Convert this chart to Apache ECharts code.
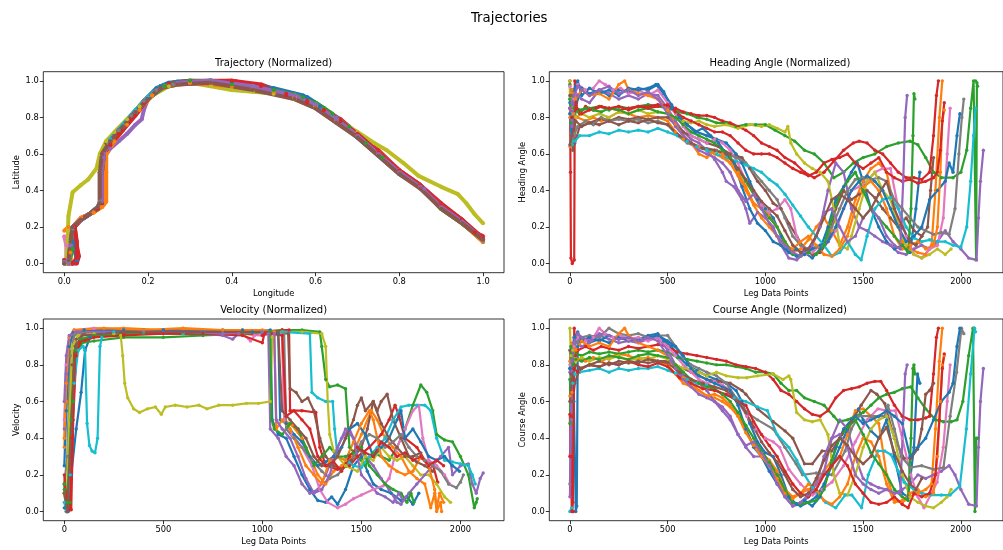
<!DOCTYPE html>
<html>
<head>
<meta charset="utf-8">
<title>Trajectories</title>
<script src="https://cdn.jsdelivr.net/npm/echarts@6/dist/echarts.min.js"></script>
<style>
  html, body { margin: 0; padding: 0; background: #fff; }
  #chart { width: 1003px; height: 550px; }
</style>
</head>
<body>
<div id="chart"></div>
<script>
// tab10 colour cycle, one colour per leg (cycles after ten legs)
const legColors = ['#1f77b4', '#ff7f0e', '#2ca02c', '#d62728', '#9467bd', '#8c564b', '#e377c2', '#7f7f7f', '#bcbd22', '#17becf'];

// tick positions
const lonTicks = [0, 0.2, 0.4, 0.6, 0.8, 1.0];
const normTicks = [0, 0.2, 0.4, 0.6, 0.8, 1.0];
const legTicks = [0, 500, 1000, 1500, 2000];

// normalised longitude / latitude per leg
const trajectoryData = [
  [[0.01,0.0],[0.03,0.01],[0.025,0.1],[0.02,0.19],[0.04,0.24],[0.06,0.27],[0.08,0.31],[0.09,0.34],[0.09,0.5],[0.095,0.6],[0.11,0.67],[0.13,0.73],[0.16,0.81],[0.19,0.89],[0.22,0.96],[0.25,0.99],[0.3,1.0],[0.4,0.99],[0.5,0.95],[0.58,0.91],[0.62,0.85],[0.66,0.78],[0.7,0.7],[0.75,0.6],[0.8,0.5],[0.85,0.43],[0.9,0.32],[0.95,0.24],[1.0,0.13]],
  [[0.0,0.18],[0.01,0.2],[0.015,0.06],[0.015,0.0],[0.02,0.2],[0.04,0.25],[0.07,0.28],[0.09,0.31],[0.1,0.34],[0.1,0.5],[0.1,0.6],[0.115,0.66],[0.14,0.74],[0.17,0.82],[0.2,0.9],[0.23,0.96],[0.27,0.99],[0.35,0.99],[0.45,0.96],[0.55,0.91],[0.6,0.87],[0.65,0.79],[0.7,0.7],[0.75,0.61],[0.8,0.51],[0.85,0.43],[0.9,0.31],[0.95,0.23],[1.0,0.12]],
  [[0.0,0.02],[0.01,0.0],[0.02,0.08],[0.02,0.2],[0.04,0.24],[0.06,0.27],[0.08,0.3],[0.09,0.33],[0.09,0.5],[0.095,0.6],[0.11,0.66],[0.14,0.74],[0.17,0.82],[0.2,0.9],[0.23,0.97],[0.27,0.995],[0.35,1.0],[0.45,0.97],[0.55,0.93],[0.6,0.88],[0.64,0.82],[0.68,0.75],[0.72,0.66],[0.76,0.58],[0.8,0.5],[0.85,0.42],[0.9,0.3],[0.95,0.22],[1.0,0.13]],
  [[0.0,0.0],[0.03,0.0],[0.035,0.04],[0.03,0.1],[0.025,0.2],[0.04,0.24],[0.06,0.27],[0.08,0.3],[0.09,0.33],[0.09,0.5],[0.095,0.6],[0.11,0.65],[0.13,0.71],[0.16,0.79],[0.19,0.88],[0.22,0.95],[0.25,0.985],[0.3,1.0],[0.4,1.0],[0.47,0.98],[0.53,0.93],[0.58,0.89],[0.62,0.84],[0.66,0.79],[0.7,0.71],[0.75,0.62],[0.8,0.51],[0.85,0.43],[0.9,0.33],[0.95,0.24],[0.98,0.17],[1.0,0.15]],
  [[0.0,0.0],[0.01,0.02],[0.01,0.12],[0.02,0.2],[0.04,0.24],[0.06,0.27],[0.08,0.31],[0.09,0.34],[0.09,0.5],[0.095,0.58],[0.11,0.63],[0.13,0.67],[0.15,0.71],[0.17,0.76],[0.185,0.79],[0.19,0.84],[0.2,0.9],[0.23,0.96],[0.27,0.99],[0.35,1.0],[0.45,0.97],[0.55,0.92],[0.6,0.87],[0.65,0.8],[0.7,0.71],[0.75,0.61],[0.8,0.5],[0.86,0.41],[0.9,0.31],[0.95,0.23],[1.0,0.12]],
  [[0.0,0.01],[0.01,0.0],[0.01,0.1],[0.02,0.2],[0.04,0.24],[0.06,0.27],[0.08,0.3],[0.085,0.33],[0.085,0.5],[0.09,0.6],[0.1,0.66],[0.13,0.73],[0.16,0.81],[0.19,0.89],[0.22,0.95],[0.26,0.99],[0.35,1.0],[0.45,0.96],[0.55,0.92],[0.6,0.86],[0.65,0.79],[0.7,0.7],[0.75,0.6],[0.8,0.5],[0.85,0.42],[0.9,0.31],[0.95,0.23],[1.0,0.13]],
  [[0.0,0.15],[0.005,0.1],[0.005,0.02],[0.01,0.1],[0.02,0.2],[0.04,0.25],[0.06,0.27],[0.08,0.31],[0.09,0.34],[0.09,0.5],[0.095,0.6],[0.11,0.67],[0.14,0.75],[0.17,0.83],[0.2,0.9],[0.23,0.96],[0.27,0.98],[0.35,0.99],[0.45,0.97],[0.55,0.92],[0.6,0.87],[0.65,0.79],[0.7,0.7],[0.75,0.61],[0.8,0.51],[0.85,0.43],[0.9,0.32],[0.95,0.23],[1.0,0.14]],
  [[0.0,0.02],[0.01,0.0],[0.015,0.1],[0.02,0.19],[0.04,0.24],[0.06,0.27],[0.08,0.31],[0.085,0.34],[0.085,0.5],[0.09,0.6],[0.105,0.66],[0.13,0.73],[0.16,0.81],[0.19,0.89],[0.22,0.95],[0.26,0.98],[0.35,0.99],[0.45,0.95],[0.5,0.93],[0.55,0.9],[0.6,0.85],[0.65,0.77],[0.7,0.69],[0.75,0.59],[0.8,0.49],[0.85,0.42],[0.9,0.31],[0.95,0.23],[1.0,0.13]],
  [[0.005,0.0],[0.008,0.12],[0.01,0.26],[0.02,0.39],[0.04,0.43],[0.057,0.46],[0.077,0.52],[0.085,0.6],[0.1,0.67],[0.12,0.72],[0.15,0.79],[0.18,0.86],[0.21,0.92],[0.25,0.97],[0.3,0.99],[0.35,0.97],[0.4,0.95],[0.45,0.94],[0.5,0.93],[0.55,0.9],[0.6,0.86],[0.65,0.79],[0.7,0.72],[0.74,0.66],[0.77,0.62],[0.81,0.55],[0.846,0.48],[0.9,0.42],[0.94,0.38],[0.96,0.33],[0.98,0.27],[1.0,0.22]],
  [[0.0,0.0],[0.01,0.01],[0.015,0.12],[0.02,0.2],[0.04,0.24],[0.06,0.27],[0.08,0.31],[0.09,0.34],[0.09,0.5],[0.095,0.6],[0.11,0.68],[0.14,0.76],[0.17,0.84],[0.2,0.91],[0.23,0.97],[0.27,0.99],[0.35,1.0],[0.45,0.97],[0.55,0.92],[0.6,0.87],[0.65,0.79],[0.7,0.7],[0.75,0.6],[0.8,0.5],[0.85,0.42],[0.9,0.31],[0.95,0.23],[1.0,0.13]],
  [[0.02,0.0],[0.03,0.02],[0.02,0.12],[0.02,0.2],[0.04,0.24],[0.06,0.27],[0.08,0.3],[0.09,0.33],[0.09,0.5],[0.095,0.6],[0.11,0.66],[0.14,0.74],[0.17,0.82],[0.2,0.9],[0.23,0.97],[0.27,0.995],[0.4,0.99],[0.5,0.96],[0.57,0.92],[0.61,0.86],[0.65,0.79],[0.7,0.69],[0.75,0.59],[0.8,0.49],[0.85,0.42],[0.9,0.31],[0.95,0.23],[1.0,0.12]],
  [[0.01,0.0],[0.015,0.1],[0.02,0.2],[0.04,0.25],[0.07,0.28],[0.09,0.31],[0.1,0.34],[0.1,0.5],[0.1,0.6],[0.12,0.67],[0.15,0.76],[0.18,0.84],[0.21,0.92],[0.24,0.97],[0.3,0.99],[0.4,0.97],[0.5,0.94],[0.55,0.91],[0.6,0.86],[0.65,0.78],[0.7,0.7],[0.75,0.6],[0.8,0.5],[0.85,0.42],[0.9,0.31],[0.95,0.22],[1.0,0.12]],
  [[0.0,0.0],[0.01,0.01],[0.015,0.1],[0.02,0.2],[0.04,0.24],[0.06,0.27],[0.08,0.3],[0.09,0.34],[0.09,0.5],[0.095,0.6],[0.11,0.67],[0.14,0.75],[0.17,0.83],[0.2,0.9],[0.24,0.97],[0.3,1.0],[0.4,0.98],[0.5,0.95],[0.57,0.91],[0.62,0.85],[0.66,0.78],[0.7,0.7],[0.75,0.6],[0.8,0.5],[0.85,0.42],[0.9,0.3],[0.95,0.22],[1.0,0.13]],
  [[0.0,0.02],[0.02,0.0],[0.03,0.03],[0.03,0.12],[0.025,0.2],[0.04,0.24],[0.06,0.27],[0.08,0.3],[0.09,0.33],[0.09,0.5],[0.095,0.6],[0.11,0.65],[0.14,0.73],[0.17,0.81],[0.2,0.9],[0.23,0.96],[0.27,0.99],[0.4,1.0],[0.47,0.97],[0.53,0.92],[0.58,0.88],[0.62,0.84],[0.66,0.78],[0.7,0.71],[0.75,0.61],[0.8,0.51],[0.85,0.43],[0.9,0.32],[0.95,0.24],[1.0,0.14]],
  [[0.0,0.01],[0.01,0.0],[0.015,0.1],[0.02,0.2],[0.04,0.24],[0.06,0.27],[0.08,0.31],[0.09,0.34],[0.09,0.5],[0.095,0.6],[0.11,0.67],[0.14,0.75],[0.17,0.83],[0.2,0.9],[0.23,0.96],[0.27,0.99],[0.35,1.0],[0.45,0.97],[0.55,0.92],[0.6,0.87],[0.65,0.79],[0.7,0.7],[0.75,0.6],[0.8,0.5],[0.85,0.42],[0.9,0.31],[0.95,0.23],[1.0,0.13]],
  [[0.0,0.0],[0.01,0.02],[0.015,0.12],[0.02,0.2],[0.04,0.24],[0.06,0.27],[0.08,0.31],[0.085,0.33],[0.085,0.5],[0.09,0.6],[0.11,0.67],[0.14,0.75],[0.17,0.83],[0.2,0.9],[0.23,0.96],[0.27,0.98],[0.35,0.99],[0.45,0.95],[0.55,0.9],[0.6,0.85],[0.65,0.77],[0.7,0.69],[0.75,0.59],[0.8,0.49],[0.85,0.41],[0.9,0.3],[0.95,0.22],[1.0,0.13]]
];

// normalised heading angle per leg: [leg data point, value]
const headingData = [
  [[0,0.88],[10,0.95],[25,0.82],[40,0.9],[60,0.96],[100,0.93],[150,0.95],[200,0.92],[250,0.95],[300,0.94],[350,0.96],[400,0.95],[450,0.98],[480,0.94],[520,0.85],[560,0.8],[600,0.76],[650,0.72],[700,0.7],[750,0.68],[800,0.66],[850,0.6],[880,0.55],[920,0.45],[960,0.35],[1000,0.3],[1040,0.25],[1080,0.15],[1120,0.06],[1160,0.04],[1200,0.06],[1240,0.03],[1280,0.08],[1320,0.2],[1360,0.35],[1400,0.42],[1440,0.5],[1470,0.55],[1500,0.45],[1540,0.3],[1580,0.2],[1620,0.12],[1660,0.08],[1700,0.1],[1740,0.06],[1770,0.3],[1790,0.5]],
  [[0,0.64],[10,0.7],[20,0.82],[40,0.8],[80,0.78],[120,0.8],[160,0.78],[200,0.8],[250,0.83],[300,0.82],[350,0.8],[400,0.81],[450,0.8],[500,0.78],[540,0.72],[580,0.68],[620,0.66],[660,0.64],[700,0.62],[740,0.6],[780,0.58],[820,0.55],[860,0.5],[900,0.42],[940,0.33],[980,0.3],[1020,0.26],[1060,0.2],[1100,0.12],[1140,0.06],[1180,0.08],[1220,0.13],[1260,0.2],[1300,0.25],[1340,0.18],[1380,0.1],[1420,0.2],[1460,0.35],[1500,0.45],[1540,0.52],[1580,0.55],[1620,0.5],[1660,0.3],[1700,0.12],[1740,0.08],[1780,0.06],[1820,0.05],[1850,0.1],[1870,0.4],[1890,0.8],[1905,1.0]],
  [[0,0.98],[5,0.77],[10,0.92],[30,0.85],[60,0.84],[100,0.85],[150,0.86],[200,0.84],[250,0.86],[300,0.85],[350,0.86],[400,0.87],[450,0.86],[500,0.85],[550,0.83],[600,0.82],[650,0.8],[700,0.79],[750,0.77],[800,0.77],[850,0.75],[900,0.76],[950,0.76],[1000,0.76],[1050,0.73],[1100,0.7],[1150,0.67],[1200,0.62],[1250,0.6],[1300,0.55],[1350,0.47],[1400,0.5],[1450,0.55],[1500,0.58],[1560,0.6],[1620,0.64],[1680,0.66],[1740,0.67],[1780,0.65],[1820,0.58],[1860,0.5],[1900,0.47],[1960,0.47],[2000,0.5],[2030,0.62],[2050,0.85],[2065,1.0],[2075,1.0],[2078,0.02],[2082,0.99],[2085,0.97]],
  [[0,1.0],[3,0.5],[5,0.03],[12,0.0],[22,0.02],[25,1.0],[35,0.85],[50,0.82],[80,0.86],[120,0.84],[160,0.86],[200,0.85],[250,0.84],[300,0.85],[350,0.86],[400,0.86],[450,0.87],[500,0.86],[540,0.85],[580,0.83],[620,0.82],[660,0.81],[700,0.81],[740,0.8],[780,0.78],[820,0.77],[860,0.75],[900,0.73],[940,0.7],[980,0.66],[1020,0.64],[1060,0.62],[1100,0.58],[1150,0.55],[1200,0.5],[1250,0.47],[1300,0.5],[1350,0.56],[1400,0.62],[1450,0.66],[1480,0.67],[1520,0.66],[1560,0.62],[1600,0.6],[1640,0.55],[1680,0.5],[1720,0.47],[1760,0.47],[1800,0.46],[1840,0.5],[1860,0.7],[1875,0.92],[1885,1.0]],
  [[0,0.82],[10,0.88],[20,0.95],[40,0.92],[60,0.9],[100,0.88],[150,0.95],[200,0.93],[250,0.9],[300,0.92],[350,0.9],[400,0.93],[450,0.92],[500,0.85],[540,0.78],[580,0.72],[620,0.68],[660,0.66],[700,0.62],[740,0.57],[780,0.5],[800,0.45],[840,0.42],[880,0.35],[900,0.3],[920,0.22],[960,0.28],[1000,0.25],[1040,0.2],[1080,0.1],[1120,0.03],[1160,0.02],[1200,0.06],[1240,0.1],[1280,0.2],[1320,0.4],[1360,0.55],[1400,0.5],[1440,0.3],[1480,0.2],[1520,0.18],[1560,0.15],[1600,0.12],[1640,0.1],[1680,0.06],[1720,0.05],[1760,0.08],[1800,0.1],[1840,0.08],[1880,0.12],[1920,0.18],[1960,0.12],[2000,0.08],[2040,0.03],[2080,0.02],[2090,0.25],[2100,0.45],[2115,0.62]],
  [[0,0.92],[5,0.8],[15,0.62],[25,0.66],[50,0.75],[100,0.77],[150,0.79],[200,0.78],[250,0.8],[300,0.79],[350,0.8],[400,0.79],[450,0.8],[500,0.8],[540,0.76],[580,0.72],[620,0.7],[660,0.68],[700,0.66],[760,0.64],[820,0.6],[880,0.58],[920,0.52],[960,0.45],[1000,0.4],[1040,0.33],[1080,0.3],[1120,0.22],[1160,0.15],[1200,0.08],[1240,0.05],[1280,0.06],[1320,0.12],[1360,0.3],[1400,0.4],[1440,0.35],[1480,0.38],[1520,0.4],[1560,0.36],[1600,0.3],[1640,0.25],[1680,0.2],[1720,0.25],[1760,0.18],[1800,0.15],[1830,0.2],[1845,0.4],[1860,0.58]],
  [[0,0.97],[10,0.85],[20,0.9],[40,0.98],[80,0.95],[120,0.96],[150,1.0],[180,0.98],[220,0.95],[260,0.96],[300,0.93],[350,0.95],[400,0.92],[450,0.95],[500,0.88],[540,0.82],[580,0.75],[620,0.7],[660,0.68],[700,0.66],[740,0.68],[780,0.66],[820,0.62],[860,0.55],[900,0.45],[940,0.38],[980,0.32],[1020,0.28],[1060,0.3],[1100,0.35],[1130,0.3],[1160,0.15],[1200,0.05],[1240,0.06],[1280,0.1],[1320,0.12],[1360,0.18],[1400,0.3],[1440,0.4],[1480,0.42],[1520,0.45],[1560,0.5],[1600,0.52],[1640,0.52],[1680,0.3],[1720,0.15],[1760,0.05],[1800,0.03],[1840,0.08],[1880,0.1],[1910,0.25],[1930,0.6],[1945,0.85]],
  [[0,0.85],[10,0.65],[20,0.7],[40,0.75],[80,0.78],[120,0.76],[160,0.8],[200,0.78],[250,0.79],[300,0.78],[350,0.79],[400,0.77],[450,0.78],[500,0.76],[550,0.7],[600,0.66],[650,0.64],[700,0.63],[750,0.62],[800,0.6],[850,0.58],[900,0.55],[940,0.5],[980,0.45],[1020,0.4],[1060,0.35],[1100,0.25],[1140,0.15],[1180,0.1],[1220,0.08],[1260,0.09],[1300,0.1],[1340,0.2],[1380,0.3],[1420,0.4],[1460,0.46],[1500,0.47],[1540,0.46],[1580,0.47],[1620,0.45],[1660,0.35],[1700,0.3],[1740,0.25],[1780,0.2],[1820,0.18],[1860,0.16],[1900,0.17],[1940,0.16],[1970,0.3],[1990,0.6],[2005,0.8],[2015,0.9]],
  [[0,1.0],[5,0.82],[15,0.85],[30,0.8],[60,0.82],[100,0.8],[150,0.82],[200,0.8],[250,0.83],[300,0.82],[350,0.84],[400,0.82],[450,0.83],[500,0.82],[540,0.8],[580,0.78],[620,0.77],[660,0.78],[700,0.76],[740,0.75],[800,0.76],[860,0.74],[920,0.76],[980,0.75],[1020,0.76],[1060,0.74],[1100,0.72],[1115,0.75],[1130,0.66],[1160,0.6],[1200,0.55],[1240,0.52],[1280,0.5],[1320,0.45],[1350,0.3],[1380,0.1],[1420,0.08],[1440,0.15],[1480,0.3],[1520,0.45],[1560,0.5],[1600,0.4],[1640,0.35],[1680,0.2],[1720,0.1],[1760,0.05],[1800,0.03],[1840,0.05],[1880,0.08],[1920,0.05],[1950,0.08]],
  [[0,0.9],[10,0.65],[25,0.67],[50,0.7],[100,0.7],[150,0.72],[200,0.71],[250,0.73],[300,0.72],[350,0.73],[400,0.72],[450,0.74],[500,0.72],[550,0.7],[600,0.67],[650,0.64],[700,0.62],[750,0.6],[800,0.58],[850,0.56],[900,0.54],[940,0.52],[980,0.5],[1020,0.46],[1060,0.43],[1100,0.38],[1140,0.32],[1180,0.26],[1220,0.2],[1260,0.15],[1300,0.1],[1340,0.04],[1380,0.06],[1420,0.12],[1460,0.05],[1490,0.02],[1520,0.15],[1560,0.3],[1600,0.35],[1640,0.36],[1680,0.3],[1720,0.2],[1760,0.14],[1800,0.12],[1840,0.13],[1880,0.12],[1920,0.12],[1960,0.1],[2000,0.09],[2030,0.2],[2050,0.45],[2065,0.7],[2075,0.85]],
  [[0,0.82],[10,0.7],[20,0.95],[40,1.0],[60,0.92],[100,0.96],[150,0.93],[200,0.95],[250,0.92],[300,0.96],[350,0.95],[400,0.96],[440,0.98],[480,0.93],[520,0.87],[560,0.8],[600,0.76],[640,0.72],[680,0.74],[720,0.7],[760,0.66],[800,0.6],[840,0.55],[880,0.42],[920,0.3],[960,0.22],[1000,0.18],[1040,0.12],[1080,0.1],[1120,0.06],[1160,0.08],[1200,0.05],[1240,0.08],[1280,0.1],[1320,0.12],[1360,0.2],[1400,0.3],[1440,0.4],[1480,0.45],[1520,0.48],[1560,0.45],[1600,0.4],[1640,0.3],[1680,0.2],[1720,0.12],[1760,0.15],[1800,0.2],[1840,0.35],[1880,0.4],[1920,0.45],[1940,0.55],[1960,0.5],[1980,0.7],[1995,0.82]],
  [[0,0.8],[10,0.95],[30,0.9],[60,0.95],[100,0.92],[150,0.93],[200,0.9],[250,0.98],[280,1.0],[300,0.95],[350,0.93],[400,0.92],[450,0.9],[500,0.84],[540,0.76],[580,0.7],[620,0.66],[660,0.6],[700,0.58],[740,0.62],[780,0.6],[820,0.55],[860,0.48],[900,0.4],[940,0.32],[980,0.25],[1020,0.2],[1060,0.15],[1100,0.1],[1140,0.08],[1180,0.12],[1220,0.15],[1260,0.1],[1300,0.05],[1340,0.04],[1380,0.08],[1420,0.15],[1460,0.3],[1500,0.42],[1540,0.45],[1580,0.4],[1620,0.3],[1660,0.15],[1700,0.08],[1740,0.1],[1780,0.12],[1820,0.08],[1860,0.1],[1880,0.2],[1895,0.5],[1905,0.78],[1915,0.84]],
  [[0,0.9],[10,0.8],[20,0.85],[40,0.83],[80,0.85],[120,0.84],[160,0.83],[200,0.85],[250,0.84],[300,0.82],[350,0.84],[400,0.85],[450,0.83],[500,0.82],[540,0.8],[580,0.76],[620,0.72],[660,0.7],[700,0.68],[740,0.66],[780,0.62],[820,0.58],[860,0.52],[900,0.45],[940,0.38],[980,0.3],[1020,0.25],[1060,0.2],[1100,0.12],[1140,0.05],[1180,0.04],[1220,0.06],[1260,0.05],[1300,0.1],[1340,0.25],[1380,0.38],[1420,0.45],[1460,0.5],[1500,0.4],[1540,0.3],[1580,0.25],[1620,0.2],[1660,0.15],[1700,0.1],[1730,0.06],[1745,0.3],[1755,0.7],[1760,0.93],[1765,0.9]],
  [[0,0.85],[10,0.8],[30,0.85],[60,0.82],[100,0.84],[150,0.86],[200,0.85],[250,0.86],[300,0.84],[350,0.86],[400,0.85],[450,0.86],[500,0.87],[540,0.83],[580,0.8],[620,0.78],[660,0.76],[700,0.74],[740,0.72],[780,0.72],[820,0.7],[860,0.66],[900,0.62],[940,0.6],[980,0.6],[1020,0.6],[1060,0.58],[1100,0.55],[1140,0.52],[1180,0.5],[1220,0.48],[1260,0.5],[1300,0.55],[1340,0.57],[1380,0.58],[1420,0.6],[1460,0.55],[1500,0.52],[1540,0.55],[1580,0.58],[1620,0.5],[1660,0.47],[1700,0.45],[1740,0.46],[1780,0.44],[1820,0.45],[1860,0.47],[1880,0.5],[1895,0.62],[1905,0.78],[1915,0.88]],
  [[0,0.85],[10,0.75],[20,0.92],[40,0.97],[60,0.95],[100,0.92],[150,0.95],[200,0.97],[250,0.93],[300,0.95],[350,0.92],[400,0.94],[450,0.9],[500,0.82],[540,0.75],[580,0.7],[620,0.66],[660,0.62],[700,0.6],[740,0.58],[780,0.55],[820,0.5],[860,0.4],[900,0.34],[940,0.38],[980,0.3],[1020,0.22],[1060,0.15],[1100,0.1],[1140,0.06],[1180,0.04],[1220,0.08],[1260,0.15],[1300,0.28],[1340,0.3],[1380,0.2],[1420,0.12],[1460,0.15],[1500,0.25],[1540,0.3],[1580,0.25],[1620,0.15],[1660,0.1],[1690,0.08],[1705,0.45],[1715,0.8],[1725,0.92]],
  [[0,0.65],[10,0.7],[30,0.78],[60,0.75],[100,0.77],[150,0.76],[200,0.78],[250,0.76],[300,0.78],[350,0.77],[400,0.79],[450,0.77],[500,0.76],[560,0.7],[620,0.66],[680,0.63],[740,0.62],[800,0.6],[860,0.52],[900,0.46],[940,0.4],[980,0.34],[1020,0.3],[1060,0.26],[1100,0.18],[1140,0.1],[1180,0.06],[1220,0.08],[1260,0.15],[1300,0.25],[1340,0.35],[1380,0.38],[1420,0.35],[1460,0.3],[1500,0.25],[1540,0.3],[1580,0.38],[1620,0.45],[1660,0.3],[1700,0.2],[1740,0.12],[1770,0.1],[1800,0.15]]
];

// normalised velocity per leg: [leg data point, value]
const velocityData = [
  [[0,0.02],[20,0.0],[35,0.2],[60,0.45],[85,0.65],[105,0.88],[130,0.95],[200,0.98],[400,0.99],[600,0.98],[800,0.99],[950,0.98],[1040,0.99],[1050,0.5],[1080,0.42],[1120,0.4],[1160,0.3],[1200,0.2],[1240,0.12],[1280,0.06],[1320,0.05],[1350,0.08],[1380,0.04],[1420,0.12],[1460,0.25],[1500,0.3],[1530,0.22],[1560,0.15],[1600,0.12],[1650,0.1],[1700,0.06],[1730,0.08],[1760,0.04],[1790,0.1]],
  [[0,0.35],[10,0.6],[25,0.9],[45,0.97],[100,0.99],[300,1.0],[500,0.99],[700,0.99],[900,0.99],[1000,0.98],[1100,0.99],[1110,0.5],[1150,0.47],[1200,0.4],[1240,0.3],[1280,0.2],[1320,0.15],[1360,0.22],[1400,0.25],[1450,0.3],[1500,0.42],[1550,0.55],[1580,0.5],[1620,0.4],[1660,0.35],[1700,0.3],[1740,0.22],[1780,0.18],[1820,0.15],[1850,0.02],[1870,0.1],[1880,0.0],[1900,0.05],[1905,0.0]],
  [[0,0.12],[15,0.0],[30,0.05],[45,0.6],[60,0.85],[90,0.92],[150,0.93],[300,0.95],[500,0.95],[700,0.96],[900,0.97],[1000,0.98],[1100,0.99],[1200,0.99],[1290,0.98],[1300,0.9],[1320,0.72],[1340,0.68],[1380,0.69],[1420,0.67],[1440,0.35],[1480,0.3],[1520,0.25],[1560,0.32],[1600,0.3],[1640,0.28],[1680,0.35],[1720,0.45],[1760,0.58],[1800,0.69],[1830,0.65],[1860,0.55],[1880,0.42],[1920,0.39],[1960,0.38],[2000,0.3],[2040,0.2],[2070,0.02],[2080,0.05],[2085,0.07]],
  [[0,0.1],[15,0.0],[35,0.01],[45,0.5],[60,0.85],[80,0.93],[150,0.96],[300,0.97],[500,0.98],[700,0.98],[900,0.97],[1000,0.96],[1100,0.99],[1135,0.99],[1140,0.55],[1200,0.55],[1270,0.54],[1290,0.35],[1320,0.25],[1380,0.23],[1440,0.25],[1480,0.3],[1540,0.35],[1600,0.42],[1640,0.5],[1670,0.58],[1690,0.52],[1720,0.4],[1780,0.35],[1820,0.28],[1860,0.26],[1885,0.16]],
  [[0,0.45],[10,0.75],[20,0.9],[40,0.97],[100,0.98],[300,0.98],[500,0.97],[700,0.97],[800,0.96],[850,0.94],[880,0.97],[1000,0.98],[1030,0.97],[1040,0.45],[1080,0.4],[1120,0.3],[1160,0.25],[1200,0.15],[1240,0.1],[1280,0.12],[1320,0.2],[1350,0.28],[1400,0.4],[1440,0.45],[1480,0.35],[1520,0.3],[1560,0.25],[1600,0.18],[1640,0.12],[1680,0.05],[1700,0.04],[1740,0.1],[1780,0.15],[1820,0.2],[1860,0.25],[1900,0.3],[1940,0.35],[1960,0.2],[2000,0.25],[2040,0.26],[2060,0.15],[2080,0.1],[2100,0.18],[2115,0.21]],
  [[0,0.15],[10,0.0],[25,0.3],[40,0.8],[60,0.94],[100,0.97],[300,0.98],[600,0.98],[900,0.98],[1100,0.98],[1130,0.97],[1140,0.67],[1170,0.65],[1200,0.6],[1230,0.62],[1260,0.55],[1290,0.4],[1320,0.3],[1360,0.25],[1400,0.23],[1450,0.28],[1500,0.35],[1530,0.45],[1560,0.6],[1580,0.55],[1600,0.6],[1630,0.64],[1660,0.5],[1700,0.4],[1740,0.3],[1780,0.27],[1820,0.25],[1860,0.22]],
  [[0,0.5],[10,0.8],[25,0.95],[50,0.99],[150,1.0],[300,0.99],[500,0.99],[700,0.98],[900,0.97],[940,0.93],[960,0.96],[1050,0.97],[1100,0.98],[1110,0.5],[1150,0.42],[1200,0.35],[1250,0.25],[1290,0.12],[1330,0.05],[1380,0.02],[1420,0.04],[1460,0.07],[1500,0.09],[1560,0.12],[1610,0.14],[1640,0.18],[1680,0.35],[1720,0.45],[1760,0.55],[1790,0.58],[1810,0.4],[1840,0.28],[1880,0.25],[1920,0.2],[1945,0.15]],
  [[0,0.15],[15,0.3],[30,0.85],[50,0.96],[100,0.98],[300,0.99],[500,0.99],[700,0.98],[900,0.98],[1050,0.98],[1110,0.97],[1120,0.45],[1160,0.4],[1200,0.35],[1250,0.28],[1300,0.22],[1340,0.18],[1380,0.2],[1420,0.25],[1460,0.3],[1500,0.38],[1540,0.42],[1580,0.4],[1620,0.35],[1660,0.38],[1700,0.42],[1740,0.35],[1780,0.3],[1820,0.28],[1860,0.25],[1900,0.22],[1940,0.15],[1980,0.13],[2000,0.16],[2015,0.2]],
  [[0,0.1],[10,0.0],[25,0.5],[40,0.9],[70,0.96],[150,0.97],[250,0.97],[285,0.96],[295,0.85],[305,0.7],[320,0.62],[350,0.56],[380,0.54],[420,0.56],[460,0.57],[490,0.53],[510,0.57],[560,0.58],[620,0.57],[680,0.58],[720,0.56],[780,0.58],[850,0.58],[920,0.59],[980,0.59],[1040,0.6],[1050,0.95],[1100,0.98],[1200,0.98],[1300,0.97],[1320,0.9],[1330,0.6],[1340,0.42],[1360,0.33],[1380,0.3],[1420,0.25],[1480,0.22],[1520,0.3],[1560,0.28],[1600,0.35],[1640,0.3],[1680,0.28],[1720,0.3],[1760,0.25],[1800,0.2],[1840,0.2],[1880,0.15],[1920,0.08],[1950,0.05]],
  [[0,0.05],[10,0.0],[30,0.2],[50,0.7],[70,0.88],[95,0.9],[105,0.88],[115,0.48],[127,0.36],[140,0.33],[155,0.32],[168,0.4],[180,0.9],[190,0.95],[250,0.98],[400,0.98],[600,0.97],[800,0.97],[1000,0.98],[1100,0.98],[1240,0.97],[1250,0.65],[1280,0.62],[1320,0.6],[1355,0.6],[1365,0.45],[1380,0.3],[1420,0.28],[1460,0.25],[1500,0.24],[1540,0.3],[1580,0.35],[1620,0.4],[1660,0.5],[1700,0.57],[1740,0.58],[1780,0.58],[1820,0.58],[1850,0.55],[1880,0.4],[1920,0.28],[1960,0.27],[2000,0.26],[2040,0.25],[2060,0.2],[2075,0.15]],
  [[0,0.25],[10,0.55],[25,0.9],[45,0.98],[100,0.99],[300,0.99],[500,0.99],[700,0.98],[900,0.99],[1000,0.98],[1080,0.97],[1090,0.5],[1120,0.48],[1160,0.42],[1200,0.38],[1240,0.3],[1280,0.25],[1320,0.27],[1360,0.3],[1400,0.35],[1440,0.45],[1480,0.48],[1520,0.42],[1560,0.3],[1600,0.35],[1640,0.4],[1680,0.5],[1700,0.55],[1720,0.4],[1760,0.45],[1800,0.38],[1840,0.3],[1880,0.28],[1920,0.3],[1960,0.25],[1995,0.22]],
  [[0,0.4],[10,0.7],[25,0.95],[50,0.99],[200,1.0],[400,0.99],[600,1.0],[800,0.99],[1000,0.99],[1060,0.98],[1070,0.45],[1100,0.5],[1140,0.45],[1180,0.35],[1220,0.25],[1260,0.2],[1300,0.15],[1340,0.28],[1380,0.3],[1420,0.28],[1460,0.38],[1500,0.48],[1540,0.55],[1560,0.5],[1600,0.3],[1640,0.25],[1680,0.22],[1720,0.2],[1760,0.22],[1800,0.3],[1840,0.25],[1870,0.12],[1880,0.02],[1895,0.1],[1915,0.05]],
  [[0,0.15],[15,0.05],[35,0.5],[55,0.88],[80,0.94],[150,0.96],[400,0.97],[700,0.97],[900,0.97],[1040,0.98],[1047,0.5],[1060,0.45],[1100,0.42],[1140,0.48],[1180,0.45],[1220,0.35],[1260,0.25],[1300,0.3],[1340,0.35],[1380,0.3],[1420,0.3],[1460,0.32],[1500,0.35],[1540,0.25],[1580,0.2],[1620,0.15],[1660,0.12],[1700,0.1],[1730,0.05],[1750,0.1],[1765,0.05]],
  [[0,0.2],[15,0.0],[30,0.02],[40,0.4],[55,0.85],[80,0.92],[150,0.95],[300,0.96],[500,0.97],[700,0.97],[900,0.96],[1000,0.92],[1010,0.97],[1050,0.97],[1100,0.96],[1120,0.52],[1160,0.55],[1200,0.5],[1240,0.45],[1280,0.3],[1320,0.25],[1360,0.27],[1400,0.22],[1440,0.3],[1480,0.35],[1520,0.32],[1560,0.3],[1600,0.38],[1640,0.35],[1680,0.3],[1720,0.32],[1760,0.28],[1800,0.3],[1840,0.25],[1880,0.28],[1915,0.25]],
  [[0,0.6],[10,0.85],[25,0.96],[60,0.98],[200,0.98],[400,0.98],[600,0.98],[800,0.97],[1000,0.98],[1060,0.97],[1070,0.5],[1100,0.45],[1140,0.4],[1180,0.3],[1220,0.18],[1260,0.1],[1300,0.12],[1340,0.2],[1380,0.35],[1420,0.45],[1460,0.4],[1500,0.2],[1540,0.15],[1580,0.1],[1620,0.08],[1660,0.05],[1690,0.1],[1710,0.06],[1725,0.08]],
  [[0,0.1],[15,0.0],[35,0.45],[55,0.9],[90,0.96],[300,0.98],[600,0.98],[900,0.98],[1080,0.98],[1100,0.55],[1140,0.5],[1180,0.45],[1220,0.4],[1260,0.3],[1300,0.25],[1340,0.25],[1380,0.3],[1420,0.4],[1460,0.5],[1480,0.58],[1500,0.62],[1520,0.55],[1560,0.6],[1600,0.48],[1640,0.4],[1680,0.35],[1720,0.3],[1760,0.3],[1800,0.32]]
];

// normalised course angle per leg: [leg data point, value]
const courseData = [
  [[0,0.78],[10,0.85],[20,0.6],[30,0.0],[35,0.03],[40,0.9],[60,0.95],[100,0.92],[150,0.94],[200,0.92],[250,0.95],[300,0.93],[350,0.94],[400,0.96],[450,0.97],[480,0.93],[520,0.9],[560,0.84],[600,0.8],[650,0.77],[700,0.74],[750,0.72],[800,0.7],[850,0.66],[880,0.6],[920,0.48],[960,0.38],[1000,0.32],[1040,0.3],[1080,0.2],[1120,0.08],[1160,0.04],[1200,0.06],[1240,0.03],[1280,0.08],[1320,0.2],[1360,0.35],[1400,0.45],[1440,0.5],[1476,0.56],[1500,0.5],[1540,0.44],[1580,0.4],[1620,0.5],[1660,0.3],[1700,0.1],[1730,0.08],[1760,0.35],[1778,0.75],[1790,0.7]],
  [[0,0.63],[10,0.65],[20,0.85],[40,0.83],[80,0.82],[120,0.84],[160,0.82],[200,0.84],[250,0.86],[300,0.85],[350,0.83],[400,0.84],[450,0.82],[500,0.8],[540,0.75],[580,0.7],[620,0.68],[660,0.66],[700,0.63],[740,0.62],[780,0.6],[820,0.57],[860,0.52],[900,0.45],[940,0.36],[980,0.32],[1020,0.28],[1060,0.22],[1100,0.12],[1140,0.08],[1180,0.1],[1220,0.12],[1260,0.15],[1300,0.22],[1340,0.28],[1380,0.3],[1420,0.42],[1460,0.55],[1500,0.56],[1540,0.52],[1580,0.48],[1620,0.2],[1660,0.06],[1700,0.05],[1740,0.08],[1780,0.1],[1820,0.12],[1850,0.15],[1870,0.45],[1890,0.82],[1905,1.0]],
  [[0,0.72],[5,0.5],[10,0.8],[30,0.86],[60,0.85],[100,0.87],[150,0.86],[200,0.87],[250,0.86],[300,0.87],[350,0.88],[400,0.87],[450,0.88],[500,0.87],[550,0.84],[600,0.83],[650,0.82],[700,0.81],[750,0.8],[800,0.8],[850,0.79],[900,0.78],[950,0.76],[1000,0.76],[1040,0.75],[1080,0.7],[1120,0.66],[1160,0.66],[1200,0.62],[1250,0.6],[1300,0.58],[1350,0.52],[1375,0.49],[1420,0.5],[1460,0.52],[1500,0.54],[1540,0.58],[1580,0.62],[1620,0.64],[1660,0.65],[1700,0.67],[1744,0.68],[1780,0.62],[1820,0.56],[1870,0.5],[1911,0.49],[1950,0.49],[1980,0.5],[2010,0.6],[2040,0.85],[2062,1.0],[2068,1.0],[2072,0.0],[2078,0.4],[2085,0.4]],
  [[0,0.3],[8,0.52],[12,0.0],[18,0.0],[22,1.0],[28,0.85],[40,0.88],[80,0.9],[120,0.88],[160,0.9],[200,0.89],[250,0.88],[300,0.9],[350,0.89],[400,0.9],[450,0.91],[500,0.9],[550,0.87],[600,0.86],[650,0.85],[700,0.84],[750,0.83],[800,0.82],[850,0.8],[900,0.79],[950,0.78],[1000,0.76],[1040,0.72],[1080,0.66],[1120,0.64],[1160,0.6],[1200,0.56],[1240,0.53],[1280,0.52],[1320,0.55],[1360,0.62],[1400,0.66],[1440,0.67],[1480,0.68],[1520,0.7],[1560,0.71],[1590,0.71],[1620,0.66],[1660,0.58],[1700,0.52],[1740,0.5],[1780,0.5],[1820,0.51],[1840,0.52],[1860,0.75],[1875,0.95],[1885,1.0]],
  [[0,0.76],[10,0.82],[20,0.95],[40,0.92],[60,0.9],[100,0.92],[150,0.96],[200,0.94],[250,0.92],[300,0.93],[350,0.92],[400,0.94],[450,0.95],[500,0.88],[540,0.8],[580,0.75],[620,0.72],[660,0.7],[700,0.66],[740,0.6],[780,0.55],[820,0.5],[860,0.42],[900,0.35],[940,0.3],[980,0.3],[1020,0.25],[1060,0.18],[1100,0.08],[1140,0.03],[1180,0.04],[1220,0.08],[1260,0.12],[1300,0.22],[1340,0.4],[1380,0.5],[1420,0.45],[1460,0.3],[1500,0.18],[1540,0.15],[1580,0.13],[1620,0.12],[1660,0.1],[1700,0.12],[1740,0.15],[1780,0.2],[1820,0.18],[1860,0.2],[1900,0.22],[1940,0.25],[1970,0.2],[2000,0.12],[2040,0.04],[2080,0.03],[2090,0.35],[2100,0.6],[2115,0.78]],
  [[0,0.88],[5,0.75],[15,0.6],[25,0.7],[50,0.78],[100,0.8],[150,0.82],[200,0.8],[250,0.82],[300,0.81],[350,0.82],[400,0.81],[450,0.82],[500,0.82],[540,0.8],[580,0.78],[620,0.76],[660,0.74],[700,0.72],[760,0.71],[820,0.7],[880,0.66],[900,0.64],[960,0.56],[1040,0.49],[1100,0.44],[1140,0.4],[1200,0.26],[1240,0.26],[1290,0.33],[1340,0.33],[1390,0.42],[1440,0.49],[1490,0.58],[1540,0.66],[1570,0.64],[1610,0.59],[1660,0.4],[1710,0.29],[1744,0.29],[1778,0.34],[1800,0.45],[1820,0.64],[1840,0.66],[1860,0.7]],
  [[0,0.8],[10,0.82],[20,0.9],[40,0.95],[80,0.93],[120,0.95],[150,1.0],[180,0.97],[220,0.95],[260,0.96],[300,0.94],[350,0.95],[400,0.93],[450,0.95],[500,0.9],[540,0.85],[580,0.8],[620,0.76],[660,0.72],[700,0.7],[740,0.71],[780,0.69],[820,0.66],[860,0.6],[905,0.52],[950,0.45],[1000,0.4],[1040,0.38],[1073,0.35],[1120,0.23],[1180,0.15],[1241,0.09],[1290,0.12],[1340,0.16],[1400,0.25],[1460,0.38],[1520,0.5],[1576,0.56],[1620,0.55],[1665,0.55],[1700,0.4],[1744,0.2],[1780,0.08],[1811,0.02],[1850,0.1],[1878,0.16],[1910,0.35],[1930,0.6],[1945,0.8]],
  [[0,0.15],[8,0.5],[15,0.85],[30,0.92],[60,0.95],[100,0.96],[150,0.95],[200,1.0],[250,0.97],[300,0.96],[350,0.97],[400,0.95],[450,0.96],[500,0.96],[540,0.9],[580,0.84],[620,0.8],[660,0.78],[700,0.76],[750,0.74],[800,0.7],[850,0.62],[905,0.54],[960,0.5],[1040,0.45],[1100,0.35],[1157,0.26],[1190,0.2],[1260,0.21],[1340,0.2],[1408,0.33],[1440,0.45],[1476,0.52],[1540,0.52],[1610,0.52],[1627,0.58],[1660,0.45],[1694,0.3],[1744,0.24],[1800,0.25],[1860,0.23],[1911,0.24],[1945,0.52],[1978,0.76],[2003,1.0],[2015,0.97]],
  [[0,1.0],[5,0.85],[15,0.88],[30,0.82],[60,0.84],[100,0.82],[150,0.84],[200,0.83],[250,0.85],[300,0.82],[350,0.84],[400,0.83],[450,0.85],[500,0.83],[540,0.8],[580,0.78],[620,0.78],[660,0.76],[700,0.74],[750,0.76],[800,0.74],[860,0.73],[905,0.73],[960,0.74],[1040,0.75],[1090,0.72],[1120,0.74],[1130,0.72],[1160,0.54],[1200,0.5],[1240,0.49],[1280,0.5],[1320,0.42],[1350,0.2],[1380,0.1],[1420,0.09],[1460,0.2],[1500,0.35],[1540,0.45],[1580,0.5],[1620,0.52],[1660,0.4],[1700,0.2],[1740,0.08],[1780,0.05],[1820,0.03],[1860,0.02],[1900,0.05],[1930,0.08],[1950,0.12]],
  [[0,0.0],[10,0.02],[15,0.7],[25,0.75],[50,0.76],[100,0.77],[150,0.78],[200,0.76],[250,0.78],[300,0.77],[350,0.78],[400,0.78],[450,0.79],[500,0.77],[540,0.755],[600,0.72],[650,0.7],[700,0.69],[780,0.64],[840,0.62],[900,0.6],[960,0.57],[1010,0.55],[1060,0.42],[1120,0.35],[1160,0.28],[1200,0.2],[1241,0.13],[1308,0.05],[1360,0.02],[1408,0.09],[1442,0.09],[1492,0.02],[1526,0.2],[1576,0.33],[1610,0.33],[1643,0.31],[1680,0.22],[1710,0.16],[1760,0.12],[1800,0.1],[1845,0.09],[1900,0.09],[1945,0.09],[1995,0.14],[2028,0.45],[2050,0.75],[2070,1.0],[2075,0.98]],
  [[0,0.78],[10,0.82],[25,0.95],[40,0.98],[60,0.93],[100,0.95],[150,0.93],[200,0.96],[250,0.94],[300,0.95],[350,0.93],[400,0.95],[450,0.96],[500,0.93],[540,0.9],[580,0.85],[620,0.78],[660,0.74],[700,0.72],[740,0.7],[780,0.68],[820,0.66],[860,0.58],[900,0.45],[940,0.35],[980,0.3],[1020,0.22],[1060,0.15],[1100,0.1],[1140,0.05],[1180,0.03],[1220,0.05],[1260,0.08],[1300,0.15],[1340,0.25],[1380,0.35],[1420,0.45],[1460,0.52],[1500,0.48],[1540,0.5],[1580,0.52],[1620,0.55],[1660,0.52],[1700,0.48],[1740,0.3],[1780,0.35],[1820,0.4],[1860,0.5],[1900,0.6],[1940,0.65],[1960,0.7],[1980,0.9],[1995,1.0]],
  [[0,0.82],[10,0.92],[30,0.88],[60,0.93],[100,0.9],[150,0.92],[200,0.9],[250,0.97],[280,1.0],[300,0.96],[350,0.92],[400,0.9],[450,0.88],[500,0.85],[540,0.78],[580,0.73],[620,0.7],[660,0.66],[700,0.63],[740,0.64],[780,0.62],[820,0.58],[860,0.52],[900,0.43],[940,0.36],[980,0.3],[1020,0.25],[1060,0.18],[1100,0.1],[1140,0.07],[1180,0.1],[1220,0.15],[1260,0.12],[1300,0.06],[1340,0.04],[1380,0.08],[1420,0.15],[1460,0.3],[1500,0.4],[1540,0.38],[1580,0.3],[1620,0.15],[1660,0.05],[1700,0.06],[1740,0.1],[1780,0.12],[1820,0.08],[1860,0.1],[1880,0.3],[1895,0.6],[1905,0.8],[1915,0.85]],
  [[0,0.48],[5,0.9],[15,0.8],[30,0.83],[60,0.82],[100,0.84],[150,0.83],[200,0.85],[250,0.84],[300,0.83],[350,0.85],[400,0.86],[450,0.85],[500,0.84],[540,0.8],[580,0.76],[620,0.72],[660,0.7],[700,0.68],[740,0.67],[780,0.64],[820,0.6],[860,0.54],[900,0.47],[940,0.4],[980,0.33],[1020,0.27],[1060,0.2],[1100,0.12],[1140,0.05],[1180,0.04],[1220,0.05],[1260,0.06],[1300,0.12],[1340,0.28],[1380,0.4],[1420,0.46],[1460,0.5],[1500,0.42],[1540,0.32],[1580,0.26],[1620,0.2],[1660,0.12],[1700,0.08],[1730,0.06],[1745,0.4],[1755,0.78],[1760,0.8],[1765,0.75]],
  [[0,0.53],[5,0.3],[10,0.0],[15,0.05],[20,0.78],[40,0.76],[60,0.78],[100,0.8],[150,0.79],[200,0.81],[250,0.8],[300,0.82],[350,0.8],[400,0.79],[450,0.81],[500,0.79],[560,0.73],[620,0.7],[680,0.67],[740,0.66],[800,0.64],[860,0.6],[900,0.58],[940,0.49],[980,0.42],[1020,0.36],[1060,0.3],[1100,0.22],[1140,0.15],[1180,0.1],[1220,0.08],[1260,0.12],[1300,0.2],[1340,0.25],[1380,0.3],[1420,0.25],[1460,0.15],[1500,0.1],[1540,0.05],[1580,0.04],[1620,0.05],[1660,0.08],[1700,0.04],[1730,0.02],[1760,0.1],[1800,0.08],[1840,0.1],[1870,0.2],[1890,0.5],[1905,0.78],[1915,0.86]],
  [[0,0.08],[5,0.5],[10,0.82],[20,0.92],[40,0.97],[60,0.95],[100,0.93],[150,0.97],[200,0.96],[250,0.94],[300,0.95],[350,0.93],[400,0.95],[450,0.93],[500,0.85],[540,0.78],[580,0.72],[620,0.68],[660,0.64],[700,0.62],[740,0.6],[780,0.57],[820,0.52],[860,0.42],[900,0.36],[940,0.38],[980,0.32],[1020,0.25],[1060,0.15],[1100,0.08],[1140,0.03],[1180,0.05],[1220,0.09],[1260,0.15],[1300,0.3],[1340,0.4],[1380,0.42],[1420,0.35],[1460,0.2],[1500,0.15],[1540,0.12],[1580,0.1],[1620,0.12],[1660,0.1],[1690,0.1],[1705,0.5],[1715,0.75],[1725,0.8]],
  [[0,0.6],[10,0.72],[30,0.8],[60,0.78],[100,0.8],[150,0.79],[200,0.81],[250,0.8],[300,0.82],[350,0.81],[400,0.83],[450,0.82],[500,0.81],[560,0.76],[620,0.72],[680,0.7],[740,0.68],[800,0.66],[860,0.6],[900,0.54],[940,0.46],[980,0.38],[1020,0.32],[1060,0.27],[1100,0.2],[1140,0.12],[1180,0.08],[1220,0.1],[1260,0.18],[1300,0.28],[1340,0.36],[1380,0.4],[1420,0.36],[1460,0.3],[1500,0.26],[1540,0.3],[1580,0.4],[1620,0.46],[1660,0.32],[1700,0.22],[1740,0.15],[1770,0.12],[1800,0.18]]
];

const FONT = 'DejaVu Sans';
const INK = '#000';

const fmtFraction = (v) => v.toFixed(1);
const fmtInteger = (v) => String(Math.round(v));

// panel frames (pixel boxes) and their axes
const panels = [
  { box: { left: 43.3, top: 71.7, width: 460.7, height: 201 }, xMin: -0.05, xMax: 1.05, xTicks: lonTicks, xFmt: fmtFraction,
    xName: 'Longitude', yName: 'Latitude', title: 'Trajectory (Normalized)', data: trajectoryData, width: 4, dot: 4 },
  { box: { left: 549.3, top: 71.7, width: 461.1, height: 201 }, xMin: -105.5, xMax: 2215.5, xTicks: legTicks, xFmt: fmtInteger,
    xName: 'Leg Data Points', yName: 'Heading Angle', title: 'Heading Angle (Normalized)', data: headingData, width: 2.2, dot: 3.4 },
  { box: { left: 43.3, top: 319, width: 460.7, height: 201.7 }, xMin: -106, xMax: 2220, xTicks: legTicks, xFmt: fmtInteger,
    xName: 'Leg Data Points', yName: 'Velocity', title: 'Velocity (Normalized)', data: velocityData, width: 2.2, dot: 3.4 },
  { box: { left: 549.3, top: 319, width: 461.1, height: 201.7 }, xMin: -105.5, xMax: 2215.5, xTicks: legTicks, xFmt: fmtInteger,
    xName: 'Leg Data Points', yName: 'Course Angle', title: 'Course Angle (Normalized)', data: courseData, width: 2.2, dot: 3.4 }
];

const grid = [], xAxis = [], yAxis = [], series = [], graphic = [];

function axisCommon(ticks, fmt, margin) {
  return {
    axisLine: { show: false, onZero: false },
    axisTick: { show: true, inside: false, length: 3.5, customValues: ticks, lineStyle: { color: INK, width: 0.8 } },
    axisLabel: { customValues: ticks, formatter: fmt, color: INK, fontSize: 8.3, fontFamily: FONT, margin },
    splitLine: { show: false },
    nameLocation: 'middle',
    nameTextStyle: { color: INK, fontSize: 8.3, fontFamily: FONT }
  };
}

panels.forEach((p, i) => {
  grid.push(Object.assign({ show: true, borderColor: INK, borderWidth: 0.8, backgroundColor: 'transparent', containLabel: false }, p.box));
  xAxis.push(Object.assign(axisCommon(p.xTicks, p.xFmt, 5), {
    type: 'value', gridIndex: i, position: 'bottom', min: p.xMin, max: p.xMax, name: p.xName, nameGap: 17
  }));
  yAxis.push(Object.assign(axisCommon(normTicks, fmtFraction, 4.5), {
    type: 'value', gridIndex: i, position: 'left', min: -0.05, max: 1.05, name: p.yName, nameGap: 22.5
  }));

  p.data.forEach((leg, k) => {
    series.push({
      type: 'line',
      xAxisIndex: i,
      yAxisIndex: i,
      data: leg,
      color: legColors[k % legColors.length],
      symbol: 'circle',
      symbolSize: p.dot,
      showSymbol: true,
      lineStyle: { width: p.width },
      clip: true,
      silent: true,
      animation: false
    });
  });

  graphic.push({
    type: 'text',
    x: p.box.left + p.box.width / 2,
    y: p.box.top - 8.4,
    style: { text: p.title, fill: INK, font: '10px "DejaVu Sans"', align: 'center', verticalAlign: 'middle' }
  });
});

graphic.push({
  type: 'text',
  x: 509.2,
  y: 18.3,
  style: { text: 'Trajectories', fill: INK, font: '13.3px "DejaVu Sans"', align: 'center', verticalAlign: 'middle' }
});

const chart = echarts.init(document.getElementById('chart'), null, { renderer: 'canvas' });
chart.setOption({
  backgroundColor: '#fff',
  animation: false,
  textStyle: { fontFamily: FONT },
  grid, xAxis, yAxis, series, graphic
});
</script>
</body>
</html>
